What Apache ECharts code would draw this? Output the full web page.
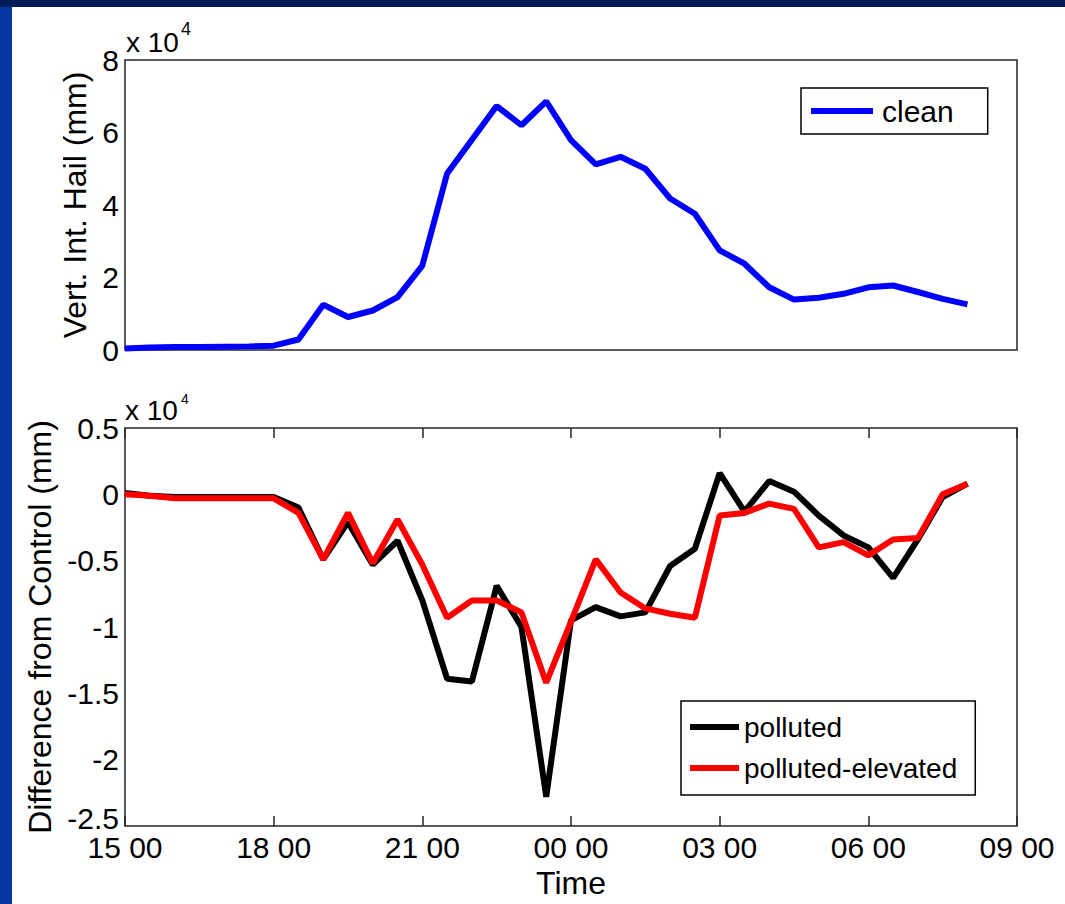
<!DOCTYPE html>
<html>
<head>
<meta charset="utf-8">
<script src="https://cdn.jsdelivr.net/npm/echarts@6/dist/echarts.min.js"></script>
<style>
html,body{margin:0;padding:0;background:#fff;}
#chart{width:1065px;height:904px;}
</style>
</head>
<body>
<div id="chart"></div>
<script>
// Half-hourly time steps from 15:00 to 09:00 next day
const times = ['15:00','15:30','16:00','16:30','17:00','17:30','18:00','18:30','19:00','19:30',
  '20:00','20:30','21:00','21:30','22:00','22:30','23:00','23:30','00:00','00:30',
  '01:00','01:30','02:00','02:30','03:00','03:30','04:00','04:30','05:00','05:30',
  '06:00','06:30','07:00','07:30','08:00','08:30','09:00'];
const timeTicks = ['15 00','18 00','21 00','00 00','03 00','06 00','09 00'];

// Values in units of 10^4 mm
const clean = [0.04,0.07,0.08,0.08,0.09,0.10,0.12,0.29,1.25,0.91,
  1.09,1.46,2.33,4.87,5.80,6.73,6.20,6.86,5.79,5.12,
  5.33,5.00,4.18,3.76,2.75,2.38,1.73,1.39,1.44,1.55,
  1.73,1.78,1.60,1.41,1.26];
const polluted = [0.01,-0.01,-0.02,-0.02,-0.02,-0.02,-0.02,-0.10,-0.49,-0.21,
  -0.53,-0.35,-0.80,-1.39,-1.41,-0.69,-1.00,-2.28,-0.95,-0.85,
  -0.92,-0.89,-0.54,-0.41,0.16,-0.13,0.10,0.02,-0.16,-0.31,
  -0.40,-0.63,-0.34,-0.02,0.08];
const pollutedElevated = [0.00,-0.01,-0.03,-0.03,-0.03,-0.03,-0.03,-0.14,-0.49,-0.14,
  -0.52,-0.19,-0.53,-0.93,-0.80,-0.80,-0.89,-1.42,-0.96,-0.49,
  -0.74,-0.86,-0.90,-0.93,-0.16,-0.14,-0.07,-0.11,-0.40,-0.36,
  -0.46,-0.34,-0.33,0.00,0.08];

const FONT = 'Liberation Sans, Arial, Helvetica, sans-serif';
const frameColor = '#262626';
const tickStyle = {inside:true, length:10, lineStyle:{color:frameColor, width:1.5}};
const noLine = {show:false, onZero:false};

const chart = echarts.init(document.getElementById('chart'), null, {renderer:'svg'});
const option = {
  backgroundColor:'#ffffff',
  animation:false,
  textStyle:{fontFamily:FONT, color:'#000'},
  graphic:[
    {type:'rect', left:0, top:0, shape:{width:12, height:904}, style:{fill:'#0537a1'}, z:-10},
    {type:'rect', left:0, top:0, shape:{width:1065, height:7}, style:{fill:'#001c58'}, z:-10},
    {type:'text', left:126, top:28, style:{text:'x 10', font:'28px ' + FONT, fill:'#000'}},
    {type:'text', left:181, top:20, style:{text:'4', font:'18px ' + FONT, fill:'#000'}},
    {type:'text', left:125, top:396, style:{text:'x 10', font:'28px ' + FONT, fill:'#000'}},
    {type:'text', left:181, top:392, style:{text:'4', font:'14px ' + FONT, fill:'#000'}}
  ],
  grid:[
    {left:125, top:60, width:892, height:290, show:true, borderColor:frameColor, borderWidth:1.5, backgroundColor:'#fff'},
    {left:125, top:428, width:892, height:398, show:true, borderColor:frameColor, borderWidth:1.5, backgroundColor:'#fff'}
  ],
  legend:[
    {
      data:['clean'], left:801, top:88, orient:'vertical', selectedMode:false,
      padding:[8,34,8,10], borderColor:'#000', borderWidth:1.5, backgroundColor:'#fff',
      icon:'rect', itemWidth:62, itemHeight:6,
      textStyle:{fontSize:30, color:'#000', fontFamily:FONT, padding:[0,0,0,4]}
    },
    {
      data:['polluted','polluted-elevated'], left:681, top:701, orient:'vertical', selectedMode:false,
      padding:[12,18,13,9], borderColor:'#000', borderWidth:1.5, backgroundColor:'#fff',
      icon:'rect', itemWidth:49, itemHeight:6, itemGap:13,
      textStyle:{fontSize:28, color:'#000', fontFamily:FONT}
    }
  ],
  xAxis:[
    {gridIndex:0, type:'category', data:times, boundaryGap:false,
      axisLine:noLine, axisTick:{show:false}, axisLabel:{show:false}, splitLine:{show:false}},
    {gridIndex:1, type:'category', data:times, boundaryGap:false, position:'bottom',
      axisLine:noLine, axisTick:Object.assign({interval:5}, tickStyle),
      axisLabel:{interval:5, fontSize:30, color:'#000', fontFamily:FONT, margin:6,
        formatter:(v,i)=>timeTicks[Math.round(i/6)]},
      splitLine:{show:false},
      name:'Time', nameLocation:'middle', nameGap:41,
      nameTextStyle:{fontSize:32, color:'#000', fontFamily:FONT}},
    {gridIndex:1, type:'category', data:times, boundaryGap:false, position:'top',
      axisLine:noLine, axisTick:Object.assign({interval:5}, tickStyle),
      axisLabel:{show:false}, splitLine:{show:false}}
  ],
  yAxis:[
    {gridIndex:0, type:'value', min:0, max:8, interval:2, position:'left',
      axisLine:noLine, axisTick:tickStyle, splitLine:{show:false},
      axisLabel:{fontSize:30, color:'#000', fontFamily:FONT, margin:6},
      name:'Vert. Int. Hail (mm)', nameLocation:'middle', nameGap:32,
      nameTextStyle:{fontSize:32, color:'#000', fontFamily:FONT}},
    {gridIndex:0, type:'value', min:0, max:8, interval:2, position:'right',
      axisLine:noLine, axisTick:tickStyle, splitLine:{show:false}, axisLabel:{show:false}},
    {gridIndex:1, type:'value', min:-2.5, max:0.5, interval:0.5, position:'left',
      axisLine:noLine, axisTick:tickStyle, splitLine:{show:false},
      axisLabel:{fontSize:30, color:'#000', fontFamily:FONT, margin:6,
        formatter:v => v <= -2.5 ? '{low|' + v + '}' : String(v),
        rich:{low:{fontSize:30, color:'#000', fontFamily:FONT, padding:[0,0,16,0]}}},
      name:'Difference from Control (mm)', nameLocation:'middle', nameGap:66,
      nameTextStyle:{fontSize:32, color:'#000', fontFamily:FONT}},
    {gridIndex:1, type:'value', min:-2.5, max:0.5, interval:0.5, position:'right',
      axisLine:noLine, axisTick:tickStyle, splitLine:{show:false}, axisLabel:{show:false}}
  ],
  series:[
    {name:'clean', type:'line', xAxisIndex:0, yAxisIndex:0, data:clean, showSymbol:false,
      lineStyle:{color:'#0000ff', width:6}, itemStyle:{color:'#0000ff'}},
    {name:'polluted', type:'line', xAxisIndex:1, yAxisIndex:2, data:polluted, showSymbol:false,
      lineStyle:{color:'#000000', width:6}, itemStyle:{color:'#000000'}},
    {name:'polluted-elevated', type:'line', xAxisIndex:1, yAxisIndex:2, data:pollutedElevated, showSymbol:false,
      lineStyle:{color:'#ff0000', width:6}, itemStyle:{color:'#ff0000'}}
  ]
};
chart.setOption(option);
</script>
</body>
</html>
